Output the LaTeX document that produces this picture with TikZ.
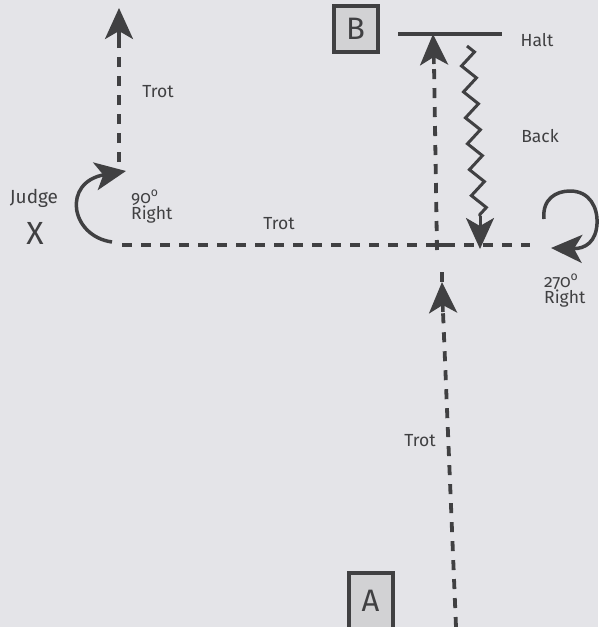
\documentclass[tikz,border=0pt]{standalone}
\usepackage{fontspec}
\setmainfont{Fira Sans}[Numbers=OldStyle]
\usetikzlibrary{arrows.meta,decorations.pathmorphing}
\definecolor{bg}{HTML}{E4E4E8}
\definecolor{ink}{HTML}{404042}
\definecolor{boxfill}{HTML}{D2D2D4}
\tikzset{
  lbl/.style={text=ink,font=\fontsize{17.5}{18}\selectfont,inner sep=0pt},
  dashline/.style={draw=ink,line width=3.8pt,dash pattern=on 10pt off 9pt},
  tipline/.style={draw=ink,line width=3.5pt,-{Stealth[length=31pt,width=28pt,inset=8pt]}},
  letterbox/.style={draw=ink,line width=4pt,fill=boxfill,minimum width=44pt,minimum height=46pt,inner sep=0pt,text=ink,font=\fontsize{31}{31}\selectfont},
}
\begin{document}
\begin{tikzpicture}[x=1pt,y=-1pt]
\fill[bg] (0,0) rectangle (598,627);
\useasboundingbox (0,0) rectangle (598,627);

% letter boxes
\node[letterbox] (B) at (355.5,29) {B};
\node[letterbox,minimum height=56pt] (A) at (370.5,601) {A};

% labels
\node[lbl] (trot1) at (158,92) {Trot};
\node[lbl,font=\fontsize{19}{19}\selectfont] (judge) at (34,198) {Judge};
\node[lbl,font=\fontsize{32}{32}\selectfont] (X) at (35,233) {X};
\node[lbl,anchor=west,align=left,font=\fontsize{17.5}{15.5}\selectfont] (r90) at (131,207) {90\textsuperscript{o}\\Right};
\node[lbl] (trot2) at (279,224) {Trot};
\node[lbl] (halt) at (537,40) {Halt};
\node[lbl] (back) at (540,136) {Back};
\node[lbl,anchor=west,align=left,font=\fontsize{17.5}{15.5}\selectfont] (r270) at (544,291) {270\textsuperscript{o}\\Right};
\node[lbl] (trot3) at (420,441) {Trot};

% coordinates
\coordinate (ul0) at (119,162);
\coordinate (ul1) at (119,40);
\coordinate (ultip) at (119,8);
\coordinate (h0) at (122,245);
\coordinate (h1) at (530,245);
\coordinate (hl0) at (398,34);
\coordinate (hl1) at (502,34);
\coordinate (v0) at (437,250);
\coordinate (v1) at (434,64);
\coordinate (vtip) at (433,34);
\coordinate (lo0) at (456,627);
\coordinate (lo1) at (443,312);
\coordinate (lotip) at (442,282);
\coordinate (lotop) at (442,272);
\coordinate (z0) at (467,46);
\coordinate (z1) at (480,216);
\coordinate (ztip) at (480,249);
\coordinate (c0) at (112,242);
\coordinate (ctip) at (126,171);
\coordinate (r0) at (544,219);
\coordinate (rtip) at (551,248);

% upper-left trot line
\draw[dashline] (ul0) -- (ul1);
\draw[tipline] (ul1) -- (ultip);

% horizontal trot line
\draw[dashline] (h0) -- (h1);

% halt line
\draw[ink,line width=4pt] (hl0) -- (hl1);

% trot up to halt
\draw[dashline] (v0) -- (v1);
\draw[tipline] (v1) -- (vtip);
\draw[ink,line width=3.5pt] (429,245) -- (445,245);

% lower trot line from A
\draw[dashline] (lo0) -- (lo1);
\draw[ink,line width=3.5pt] (lotop) -- (lotip);
\draw[tipline] (lo1) -- (lotip);

% back zigzag
\draw[ink,line width=3pt,line join=miter,decorate,decoration={zigzag,segment length=26pt,amplitude=7pt}] (z0) -- (z1);
\draw[tipline,line width=3pt] (z1) -- (ztip);

% 90 right turn
\draw[tipline] (c0) .. controls (70,236) and (62,182) .. (ctip);

% 270 right turn
\draw[tipline] (r0) .. controls (542,199) and (556,191) .. (570,191)
  .. controls (590,191) and (598,208) .. (597,224)
  .. controls (596,241) and (586,249) .. (rtip);
\end{tikzpicture}
\end{document}
